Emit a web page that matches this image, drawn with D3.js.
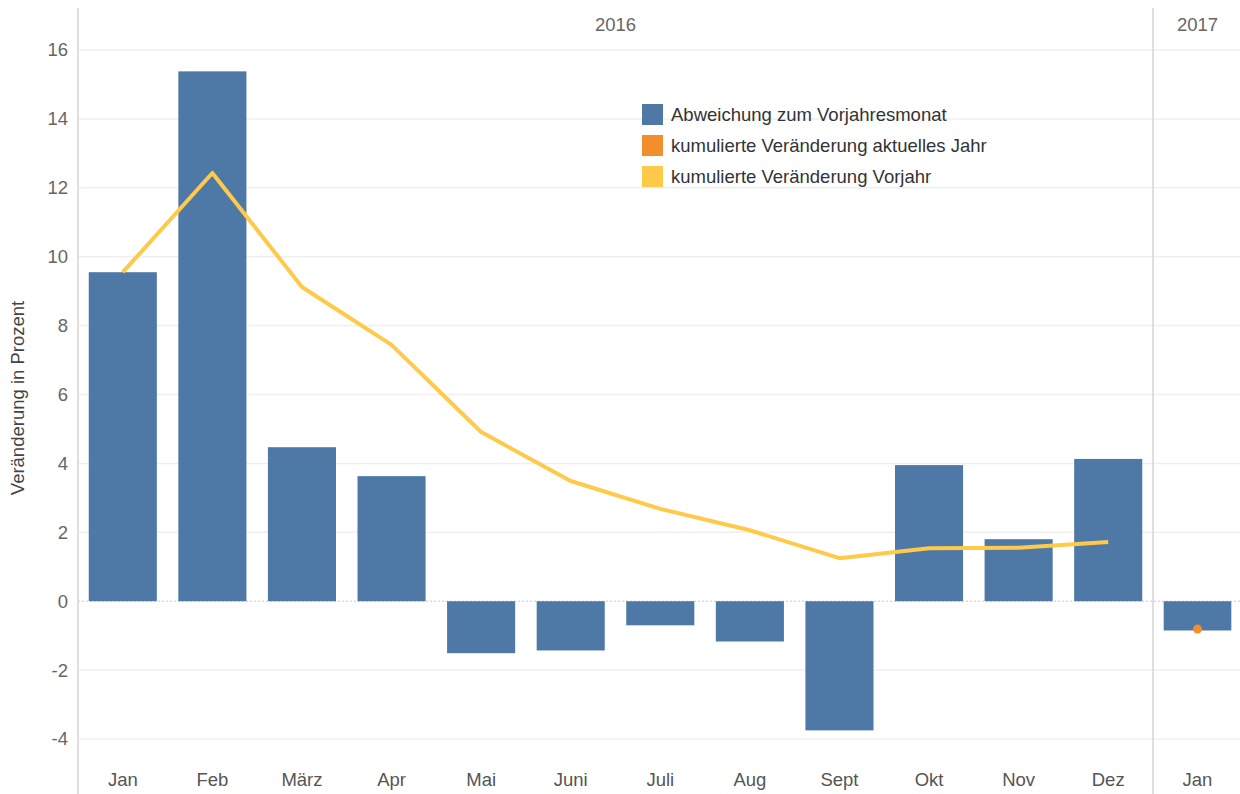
<!DOCTYPE html>
<html><head><meta charset="utf-8">
<script src="https://cdn.jsdelivr.net/npm/d3@7"></script>
<style>
body{margin:0;background:#fff;}
text{font-family:"Liberation Sans",Arial,sans-serif;}
</style></head>
<body><svg id="c" width="1240" height="794"></svg>
<script>
const months2016 = ["Jan","Feb","März","Apr","Mai","Juni","Juli","Aug","Sept","Okt","Nov","Dez"];
const months2017 = ["Jan"];
const years = ["2016","2017"];
const deviation2016 = [9.55,15.38,4.47,3.63,-1.51,-1.43,-0.70,-1.17,-3.75,3.95,1.80,4.13];
const deviation2017 = [-0.85];
const cumPrevYear2016 = [9.55,12.43,9.12,7.44,4.91,3.49,2.68,2.06,1.25,1.54,1.55,1.72];
const cumCurrentYear2017 = [-0.81];
const yTicks = [-4,-2,0,2,4,6,8,10,12,14,16];
const legendLabels = ["Abweichung zum Vorjahresmonat","kumulierte Veränderung aktuelles Jahr","kumulierte Veränderung Vorjahr"];

const colBar = "#4e79a7", colOrange = "#f28e2b", colYellow = "#ffc94a";
const legendColors = [colBar, colOrange, colYellow];
const fs = 18.5;

const svg = d3.select("#c");
const pLeft = 78, pSep = 1153, pRight = 1242, pTop = 8, pH = 794;

const y = d3.scaleLinear().domain([-4,16]).range([739,50]);
const x16 = d3.scaleBand().domain(months2016.map((m,i)=>i)).range([pLeft,pSep]).paddingInner(0.24).paddingOuter(0.12);
const x17 = d3.scaleBand().domain(months2017.map((m,i)=>i)).range([pSep,pRight]).paddingInner(0.24).paddingOuter(0.12);

// gridlines
svg.append("g").selectAll("line").data(yTicks.filter(t=>t!==0)).join("line")
  .attr("x1",pLeft).attr("x2",1240).attr("y1",d=>y(d)).attr("y2",d=>y(d))
  .attr("stroke","#efefef").attr("stroke-width",1.5);

// zero line
svg.append("line").attr("x1",pLeft).attr("x2",1240).attr("y1",y(0)).attr("y2",y(0))
  .attr("stroke","#c8c8c8").attr("stroke-width",1).attr("stroke-dasharray","2,2");

// y tick labels
svg.append("g").selectAll("text").data(yTicks).join("text")
  .attr("x",68).attr("y",d=>y(d)).attr("dy","0.35em").attr("text-anchor","end")
  .attr("font-size",fs).attr("fill","#666").text(d=>d);

// y axis title
svg.append("text").attr("transform","translate(24,398) rotate(-90)")
  .attr("text-anchor","middle").attr("font-size",fs).attr("fill","#444")
  .text("Veränderung in Prozent");

// panel borders
svg.append("line").attr("x1",pLeft).attr("x2",pLeft).attr("y1",pTop).attr("y2",pH)
  .attr("stroke","#d4d4d4").attr("stroke-width",1.5);
svg.append("line").attr("x1",pSep).attr("x2",pSep).attr("y1",pTop).attr("y2",pH)
  .attr("stroke","#d4d4d4").attr("stroke-width",1.5);

// year headers
svg.append("text").attr("x",(pLeft+pSep)/2).attr("y",25).attr("dy","0.35em").attr("text-anchor","middle")
  .attr("font-size",fs).attr("fill","#666").text(years[0]);
svg.append("text").attr("x",(pSep+pRight)/2).attr("y",25).attr("dy","0.35em").attr("text-anchor","middle")
  .attr("font-size",fs).attr("fill","#666").text(years[1]);

// bars
function bars(xs, vals){
  svg.append("g").selectAll("rect").data(vals).join("rect")
    .attr("x",(d,i)=>xs(i)).attr("width",xs.bandwidth())
    .attr("y",d=>y(Math.max(0,d))).attr("height",d=>Math.abs(y(d)-y(0)))
    .attr("fill",colBar);
}
bars(x16, deviation2016);
bars(x17, deviation2017);

// line
const line = d3.line().x((d,i)=>x16(i)+x16.bandwidth()/2).y(d=>y(d));
svg.append("path").datum(cumPrevYear2016).attr("d",line)
  .attr("fill","none").attr("stroke",colYellow).attr("stroke-width",4).attr("stroke-linejoin","round");

// orange point
svg.append("g").selectAll("circle").data(cumCurrentYear2017).join("circle")
  .attr("cx",(d,i)=>x17(i)+x17.bandwidth()/2).attr("cy",d=>y(d)).attr("r",4.5).attr("fill",colOrange);

// x labels
svg.append("g").selectAll("text").data(months2016).join("text")
  .attr("x",(d,i)=>x16(i)+x16.bandwidth()/2).attr("y",780).attr("dy","0.35em").attr("text-anchor","middle")
  .attr("font-size",fs).attr("fill","#555").text(d=>d);
svg.append("g").selectAll("text").data(months2017).join("text")
  .attr("x",(d,i)=>x17(i)+x17.bandwidth()/2).attr("y",780).attr("dy","0.35em").attr("text-anchor","middle")
  .attr("font-size",fs).attr("fill","#555").text(d=>d);

// legend
const lg = svg.append("g").attr("transform","translate(642,104)");
legendLabels.forEach((l,i)=>{
  lg.append("rect").attr("x",0).attr("y",i*31).attr("width",21).attr("height",21).attr("fill",legendColors[i]);
  lg.append("text").attr("x",29).attr("y",i*31+11).attr("dy","0.35em").attr("font-size",fs).attr("fill","#333").text(l);
});
</script></body></html>
